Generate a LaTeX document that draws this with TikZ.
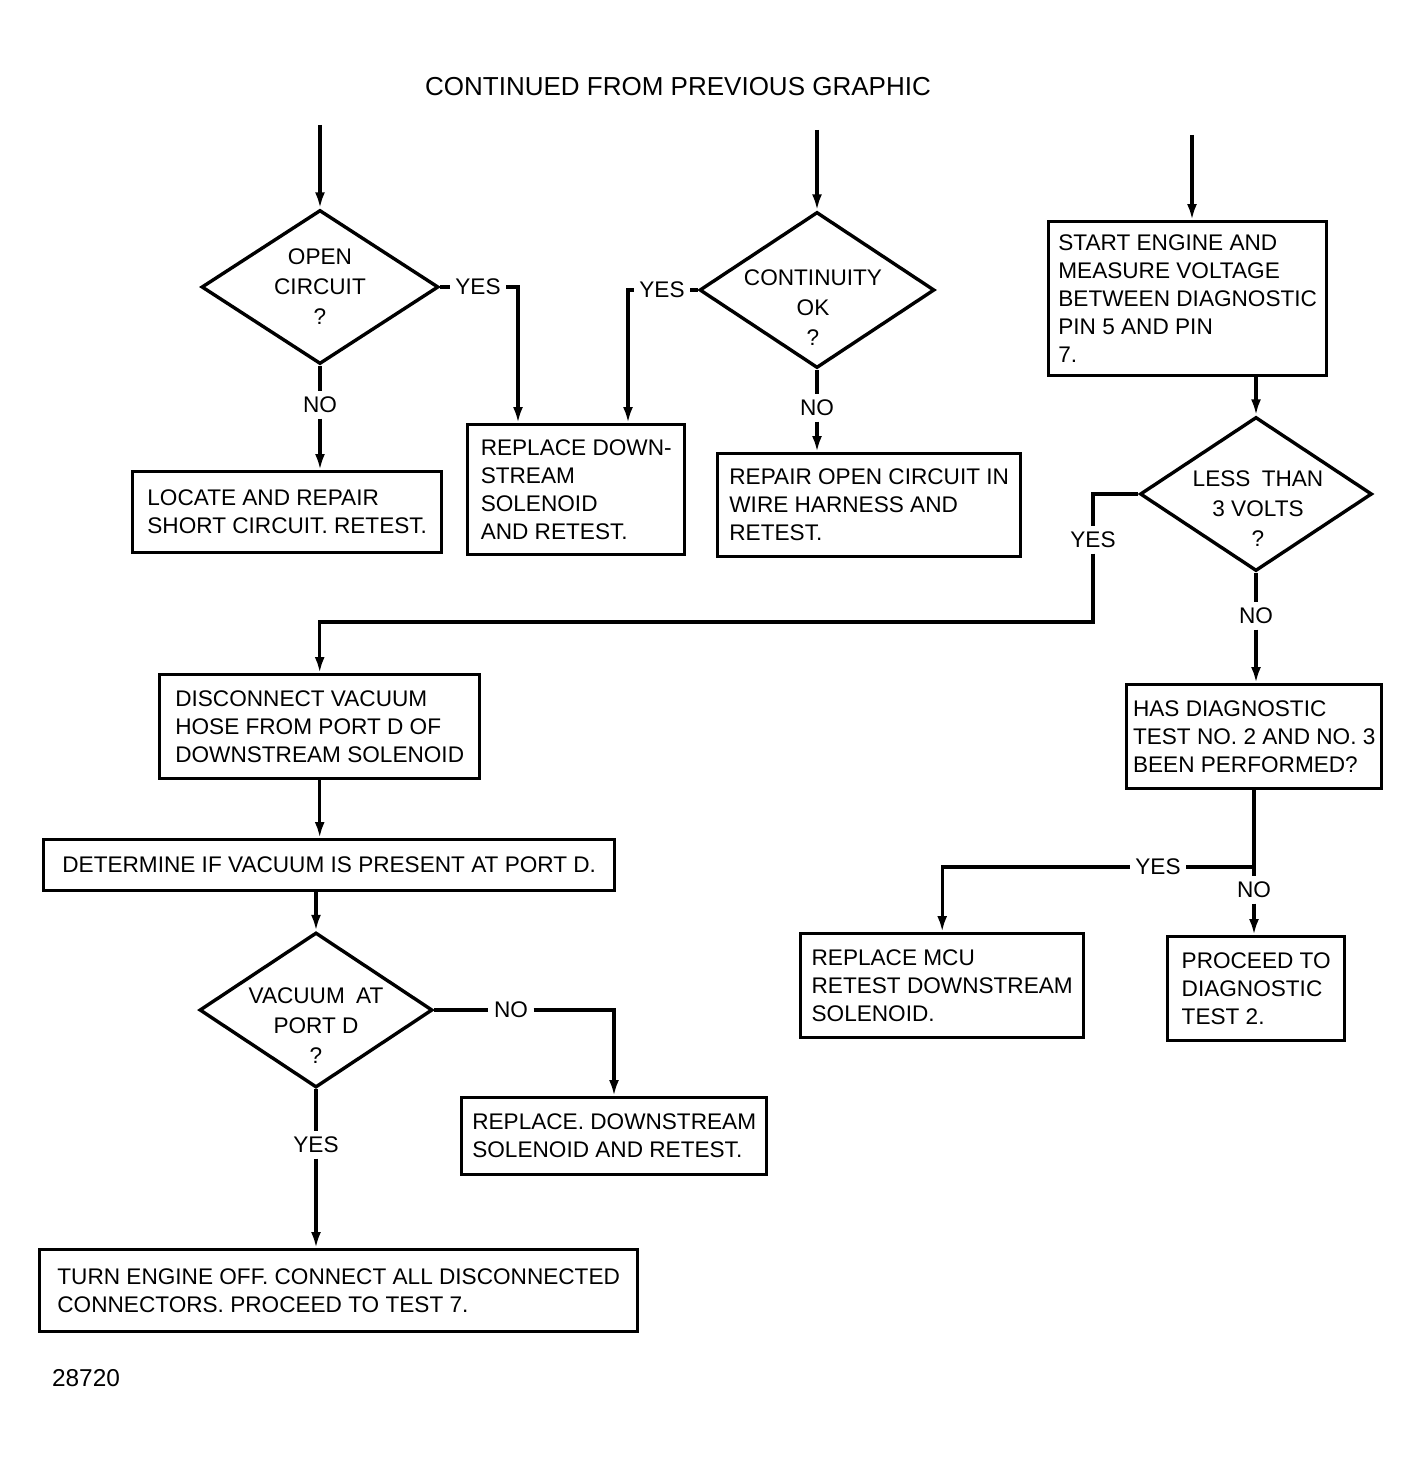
\documentclass[tikz,border=0pt]{standalone}
\usepackage{fontspec}
\setmainfont{Liberation Sans}
\usetikzlibrary{shapes.geometric,arrows.meta}
\begin{document}
\begin{tikzpicture}[x=0.5pt,y=-0.5pt,line width=1.7pt,
  txt/.style={font=\fontsize{11.3}{14}\selectfont},
  stepbox/.style={draw,txt,align=left,anchor=north west,inner sep=0pt},
  query/.style={draw,diamond,inner sep=0pt},
  qtext/.style={font=\fontsize{11.3}{15}\selectfont,align=center},
  lbl/.style={txt,inner sep=2pt},
  >={Latex[length=8pt,width=5pt]}]
\useasboundingbox (0,0) rectangle (1420,1461);

\node[font=\fontsize{13}{15}\selectfont] (title) at (678,87) {CONTINUED FROM PREVIOUS GRAPHIC};
\node[font=\fontsize{12.2}{14}\selectfont] (fig) at (86,1378) {28720};

% decisions
\node[query,minimum width=118.5pt,minimum height=77pt] (open) at (320,287) {};
\node[qtext] (openq) at (320,287) {OPEN\\CIRCUIT\\?};
\node[query,minimum width=117.5pt,minimum height=78pt] (cont) at (817,290) {};
\node[qtext] (contq) at (813,308) {CONTINUITY\\OK\\?};
\node[query,minimum width=116pt,minimum height=77pt] (less) at (1256,494) {};
\node[qtext] (lessq) at (1258,509) {LESS\enspace THAN\\3 VOLTS\\?};
\node[query,minimum width=116.5pt,minimum height=77.5pt] (vac) at (316,1010) {};
\node[qtext] (vacq) at (316,1026) {VACUUM\enspace AT\\PORT D\\?};

% boxes
\node[stepbox,minimum width=154.5pt,minimum height=40.5pt] (locate) at (131,470) {LOCATE AND REPAIR\\SHORT CIRCUIT. RETEST.};
\node[stepbox,minimum width=108.5pt,minimum height=65pt] (repdown) at (466,423) {REPLACE DOWN-\\STREAM\\SOLENOID\\AND RETEST.};
\node[stepbox,minimum width=151.5pt,minimum height=51.5pt] (repopen) at (716,452) {REPAIR OPEN CIRCUIT IN\\WIRE HARNESS AND\\RETEST.};
\node[stepbox,minimum width=139pt,minimum height=77pt] (start) at (1047,220) {START ENGINE AND\\MEASURE VOLTAGE\\BETWEEN DIAGNOSTIC\\PIN 5 AND PIN\\7.};
\node[stepbox,minimum width=127.5pt,minimum height=52pt] (hasdiag) at (1125,683) {HAS DIAGNOSTIC\\TEST NO. 2 AND NO. 3\\BEEN PERFORMED?};
\node[stepbox,minimum width=141.5pt,minimum height=52pt] (repmcu) at (799,932) {REPLACE MCU\\RETEST DOWNSTREAM\\SOLENOID.};
\node[stepbox,minimum width=88.5pt,minimum height=52pt] (proceed) at (1166,935) {PROCEED TO\\DIAGNOSTIC\\TEST 2.};
\node[stepbox,minimum width=160pt,minimum height=52pt] (disc) at (158,673) {DISCONNECT VACUUM\\HOSE FROM PORT D OF\\DOWNSTREAM SOLENOID};
\node[stepbox,minimum width=285.5pt,minimum height=25.5pt] (determine) at (42,838) {DETERMINE IF VACUUM IS PRESENT AT PORT D.};
\node[stepbox,minimum width=152.5pt,minimum height=38.5pt] (repsol) at (460,1096) {REPLACE. DOWNSTREAM\\SOLENOID AND RETEST.};
\node[stepbox,minimum width=299pt,minimum height=41pt] (turnoff) at (38,1248) {TURN ENGINE OFF. CONNECT ALL DISCONNECTED\\CONNECTORS. PROCEED TO TEST 7.};

% branch labels
\node[lbl] (yes1) at (478,287) {YES};
\node[lbl] (no1) at (320,405) {NO};
\node[lbl] (yes2) at (662,290) {YES};
\node[lbl] (no2) at (817,408) {NO};
\node[lbl] (yes3) at (1093,540) {YES};
\node[lbl] (no3) at (1256,616) {NO};
\node[lbl] (yes5) at (1158,867) {YES};
\node[lbl] (no5) at (1254,890) {NO};
\node[lbl] (no4) at (511,1010) {NO};
\node[lbl] (yes4) at (316,1145) {YES};

\coordinate (in1) at (320,125);
\coordinate (in2) at (817,130);
\coordinate (in3) at (1192,135);
\coordinate (j3) at (1093,622);
\coordinate (j5) at (1254,867);

% connectors
\draw[->] (in1) -- (open.north);
\draw[->] (in2) -- (cont.north);
\draw[->] (in3) -- (in3 |- start.north);

\draw (open.east) -- (yes1);
\draw[->] (yes1) -| ([xshift=26pt]repdown.north west);
\draw (open.south) -- (no1);
\draw[->] (no1) -- (no1 |- locate.north);

\draw (cont.west) -- (yes2);
\draw[->] (yes2) -| ([xshift=81pt]repdown.north west);
\draw (cont.south) -- (no2);
\draw[->] (no2) -- (no2 |- repopen.north);

\draw[->] (start.south -| less.north) -- (less.north);
\draw (less.west) -| (yes3);
\draw[->] (yes3) -- (j3) -| (disc.north);
\draw (less.south) -- (no3);
\draw[->] (no3) -- (no3 |- hasdiag.north);

\draw (hasdiag.south -| j5) -- (j5);
\draw (j5) -- (yes5);
\draw[->] (yes5) -| (repmcu.north);
\draw (j5) -- (no5);
\draw[->] (no5) -- (no5 |- proceed.north);

\draw[->] (disc.south) -- (disc.south |- determine.north);
\draw[->] (determine.south -| vac.north) -- (vac.north);
\draw (vac.east) -- (no4);
\draw[->] (no4) -| ([xshift=77pt]repsol.north west);
\draw (vac.south) -- (yes4);
\draw[->] (yes4) -- (yes4 |- turnoff.north);
\end{tikzpicture}
\end{document}
